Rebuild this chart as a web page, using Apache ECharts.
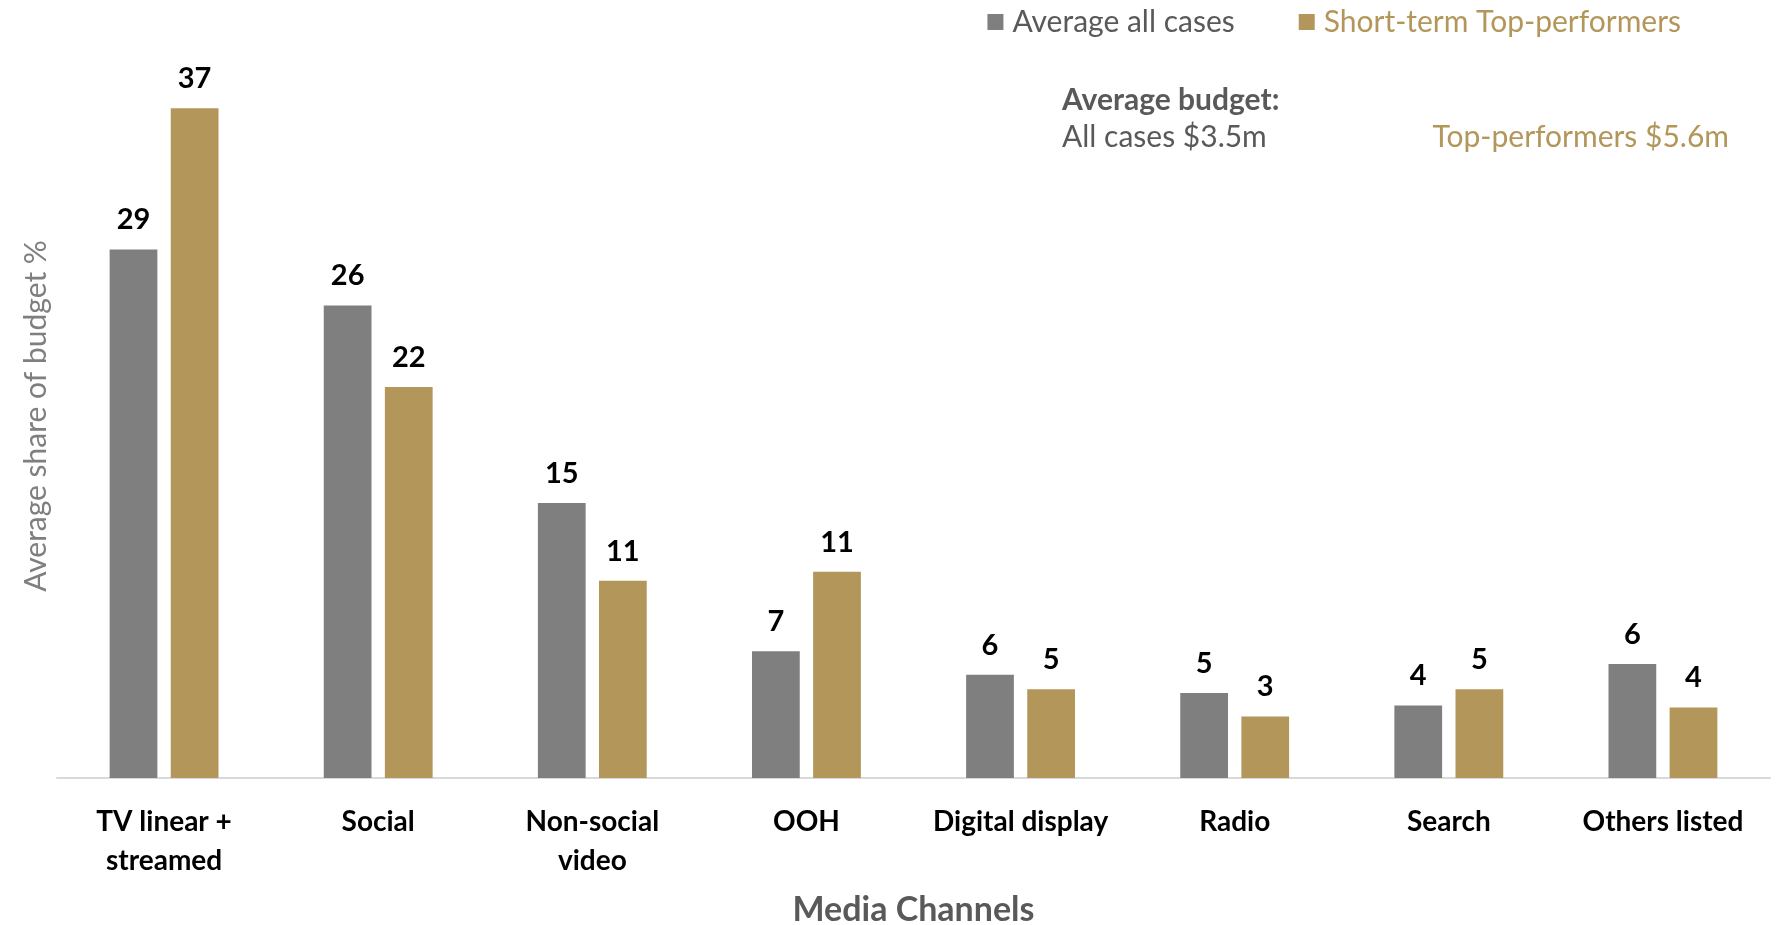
<!DOCTYPE html>
<html><head><meta charset="utf-8">
<script src="https://cdn.jsdelivr.net/npm/echarts@6/dist/echarts.min.js"></script>
<style>html,body{margin:0;padding:0;background:#fff}#c{width:1780px;height:925px}</style>
</head><body><div id="c"></div>
<script>
const categories = ['TV linear +\nstreamed', 'Social', 'Non-social\nvideo', 'OOH', 'Digital display', 'Radio', 'Search', 'Others listed'];
const averageAll = [29.2, 26.1, 15.2, 7.0, 5.7, 4.7, 4.0, 6.3];
const topPerformers = [37.0, 21.6, 10.9, 11.4, 4.9, 3.4, 4.9, 3.9];
const seriesNames = ['Average all cases', 'Short-term Top-performers'];
const budgetTitle = 'Average budget:';
const budgetAll = 'All cases $3.5m';
const budgetTop = 'Top-performers $5.6m';

const GRAY = '#7f7f7f', GOLD = '#b3965a', DARK = '#595959';
const FONT = 'Lato';
const chart = echarts.init(document.getElementById('c'));
const label = {
  show: true, position: 'top', distance: 15,
  fontFamily: FONT, fontWeight: 'bold', fontSize: 29, color: '#000',
  formatter: p => Math.round(p.value)
};
chart.setOption({
  animation: false,
  textStyle: { fontFamily: FONT },
  grid: { left: 57, right: 10, top: 54, bottom: 147, containLabel: false, outerBoundsMode: 'none' },
  legend: {
    top: 2, right: 94, itemWidth: 16, itemHeight: 16, itemGap: 64,
    icon: 'rect',
    textStyle: { fontFamily: FONT, fontSize: 30, padding: [0, 0, 0, 4] },
    data: [
      { name: seriesNames[0], textStyle: { color: DARK } },
      { name: seriesNames[1], textStyle: { color: GOLD } }
    ]
  },
  xAxis: {
    type: 'category', data: categories,
    axisLine: { lineStyle: { color: '#d9d9d9', width: 2 } },
    axisTick: { show: false },
    axisLabel: { fontFamily: FONT, fontWeight: 'bold', fontSize: 28, color: '#000', margin: 24, lineHeight: 39, interval: 0 },
    name: 'Media Channels', nameLocation: 'middle', nameGap: 115,
    nameTextStyle: { fontFamily: FONT, fontWeight: 'bold', fontSize: 34, color: DARK }
  },
  yAxis: {
    type: 'value', min: 0, max: 40,
    axisLine: { show: false }, axisTick: { show: false },
    axisLabel: { show: false }, splitLine: { show: false },
    name: 'Average share of budget %', nameLocation: 'middle', nameGap: 6,
    nameTextStyle: { fontFamily: FONT, fontSize: 30, color: '#7f7f7f' }
  },
  series: [
    { name: seriesNames[0], type: 'bar', data: averageAll, itemStyle: { color: GRAY },
      barWidth: '22.3%', barGap: '28%', label: label },
    { name: seriesNames[1], type: 'bar', data: topPerformers, itemStyle: { color: GOLD },
      barWidth: '22.3%', label: label }
  ],
  graphic: [
    { type: 'text', left: 1062, top: 85, style: { text: budgetTitle, font: 'bold 30px ' + FONT, fill: DARK } },
    { type: 'text', left: 1062, top: 122, style: { text: budgetAll, font: '30px ' + FONT, fill: DARK } },
    { type: 'text', right: 51, top: 122, style: { text: budgetTop, font: '30px ' + FONT, fill: GOLD } }
  ]
});
</script></body></html>
